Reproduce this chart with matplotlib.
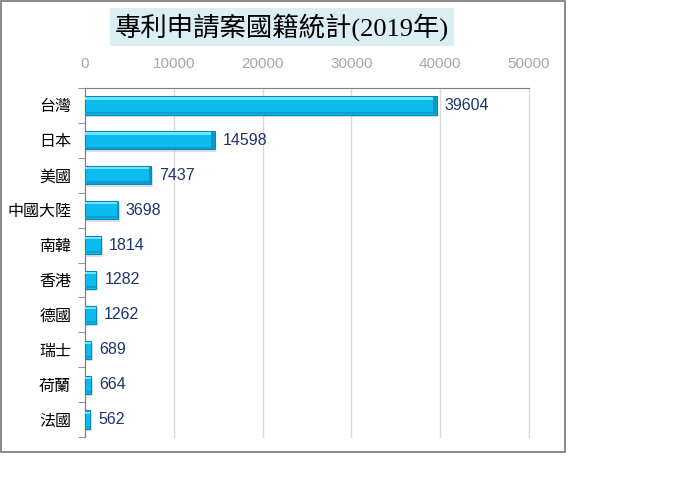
import matplotlib
matplotlib.use("Agg")
import matplotlib.pyplot as plt
from matplotlib.patches import Rectangle

# data
countries = ["台灣", "日本", "美國", "中國大陸", "南韓", "香港", "德國", "瑞士", "荷蘭", "法國"]
counts = [39604, 14598, 7437, 3698, 1814, 1282, 1262, 689, 664, 562]
ticks = [0, 10000, 20000, 30000, 40000, 50000]

plt.rcParams['font.family'] = ['Liberation Sans', 'Noto Sans CJK TC', 'DejaVu Sans']

fig = plt.figure(figsize=(6.73, 4.99), dpi=100)
ax = fig.add_axes([85/673, 1-437/499, 444/673, 349/499])

ypos = list(range(len(countries)))
h = 0.52

# shadow
ax.barh([y + 0.07 for y in ypos], [c + 200 for c in counts], height=h, left=0,
        color='#9a9a9a', alpha=0.3, zorder=2)
# main bar
ax.barh(ypos, counts, height=h, color='#0dbcee', edgecolor='#0b88b8', linewidth=0.8, zorder=3)
# top highlight
ax.barh([y - h*0.38 for y in ypos], counts, height=h*0.12, color='#6fe2ff', linewidth=0, zorder=4)
# bottom darker strip
ax.barh([y + h*0.4 for y in ypos], counts, height=h*0.12, color='#0a9ed2', linewidth=0, zorder=4)
# right bevel
ax.barh(ypos, [min(c*0.03, 450) for c in counts], left=[c - min(c*0.03, 450) for c in counts],
        height=h*0.9, color='#0a98ca', linewidth=0, zorder=4)

for y, c in zip(ypos, counts):
    ax.text(c + 900, y, str(c), va='center', ha='left', fontsize=11.5, color='#1c3470', zorder=5)

ax.set_xlim(0, 50000)
ax.set_ylim(len(countries) - 0.5, -0.5)
ax.set_xticks(ticks)
ax.set_xticklabels([str(t) for t in ticks], color='#a6a6a6', fontsize=11)
ax.xaxis.tick_top()
ax.tick_params(axis='x', length=0, pad=12)
ax.set_yticks(ypos)
ax.set_yticklabels(countries, fontsize=11.5)
ax.tick_params(axis='y', which='major', length=0, pad=10)
ax.set_yticks([y + 0.5 for y in ypos[:-1]] + [-0.5, len(countries) - 0.5], minor=True)
ax.tick_params(axis='y', which='minor', length=5, color='#808080')

ax.grid(axis='x', color='#d9d9d9', linewidth=1, zorder=0)
for gl in ax.get_xgridlines():
    gl.set_clip_on(False)
ax.set_axisbelow(True)
for s in ['right', 'bottom']:
    ax.spines[s].set_visible(False)
for s in ['top', 'left']:
    ax.spines[s].set_color('#808080')

fig.text(282/673, 1-27/499, "專利申請案國籍統計(2019年)", ha='center', va='center',
         fontsize=19, family=['Liberation Serif', 'Noto Sans CJK TC'], color='black',
         bbox=dict(boxstyle='square,pad=0.2', facecolor='#daeef3', edgecolor='none'))

fig.patches.append(Rectangle((0.002, 1-452/499), 565/673 - 0.002, 452/499 - 0.002,
                             transform=fig.transFigure, fill=False, edgecolor='#808080',
                             linewidth=1.3))

fig.savefig("out.png", dpi=100)
